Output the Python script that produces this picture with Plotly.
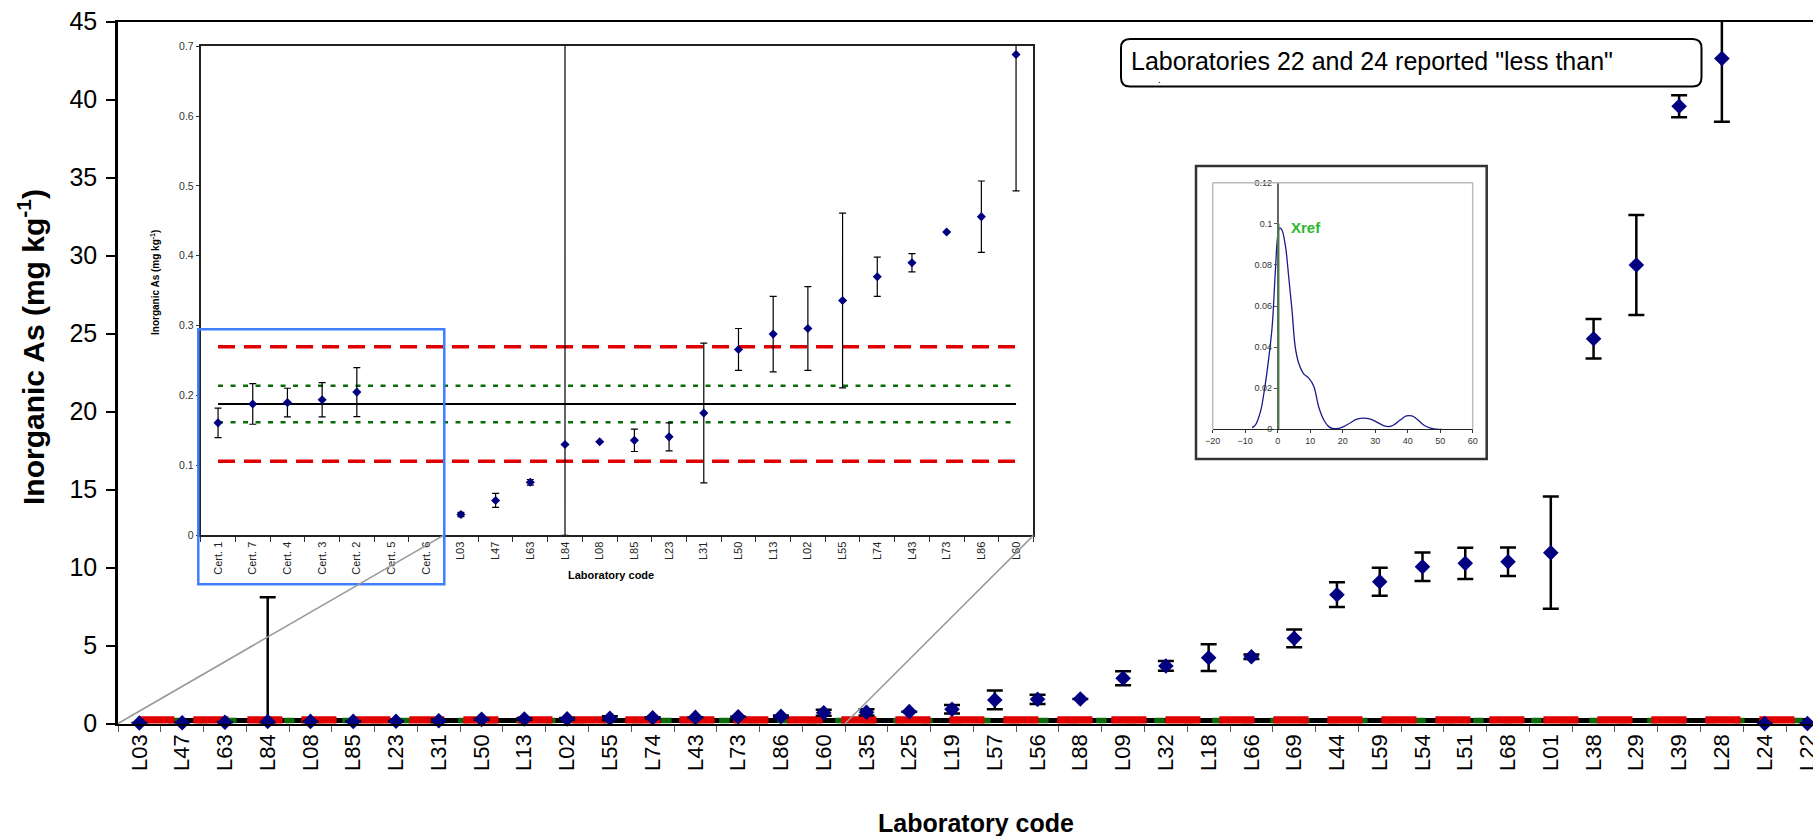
import plotly.graph_objects as go

# ---------------- data ----------------
lab_codes = ["L03", "L47", "L63", "L84", "L08", "L85", "L23", "L31", "L50", "L13",
             "L02", "L55", "L74", "L43", "L73", "L86", "L60", "L35", "L25", "L19",
             "L57", "L56", "L88", "L09", "L32", "L18", "L66", "L69", "L44", "L59",
             "L54", "L51", "L68", "L01", "L38", "L29", "L39", "L28", "L24", "L22"]
lab_values = [0.030, 0.050, 0.076, 0.130, 0.134, 0.136, 0.141, 0.175, 0.266, 0.288,
              0.296, 0.336, 0.370, 0.390, 0.434, 0.456, 0.688, 0.72, 0.76, 0.91,
              1.51, 1.55, 1.57, 2.90, 3.69, 4.22, 4.28, 5.46, 8.26, 9.09,
              10.05, 10.27, 10.37, 10.95, 24.67, 29.40, 39.58, 42.64, 0.0, 0.0]
lab_uncert = [0.003, 0.010, 0.004, 7.96, 0.0, 0.016, 0.020, 0.100, 0.030, 0.054,
              0.060, 0.125, 0.028, 0.013, 0.0, 0.051, 0.195, 0.20, 0.0, 0.27,
              0.60, 0.30, 0.0, 0.45, 0.31, 0.86, 0.15, 0.57, 0.79, 0.90,
              0.91, 1.00, 0.91, 3.60, 1.26, 3.20, 0.70, 4.06, 0.0, 0.0]

cert_codes = ["Cert. 1", "Cert. 7", "Cert. 4", "Cert. 3", "Cert. 2", "Cert. 5", "Cert. 6"]
cert_values = [0.161, 0.188, 0.190, 0.194, 0.205, None, None]
cert_uncert = [0.021, 0.029, 0.0205, 0.0245, 0.035, None, None]

n_zoom = 17          # number of laboratories repeated in the zoomed inset

x_ref = 0.188        # reference value
u_inner = 0.026      # green dotted band half-width
u_outer = 0.082      # red dashed band half-width

kde_x = [-7.9, -6.9, -5.3, -4.1, -2.8, -1.7, -0.7, 0.0, 0.6, 1.3, 2.4, 3.4, 4.4, 5.4,
         6.5, 8.0, 9.5, 11.1, 12.6, 14.2, 15.7, 17.2, 18.8, 20.3, 22.4, 24.4, 26.5,
         28.5, 30.6, 32.6, 34.2, 35.7, 37.7, 39.6, 41.3, 42.9, 44.9, 47.0, 49.5, 50.6]
kde_y = [0.0008, 0.002, 0.0086, 0.019, 0.034, 0.050, 0.0775, 0.094, 0.098, 0.097,
         0.089, 0.074, 0.058, 0.040, 0.032, 0.027, 0.025, 0.021, 0.011, 0.0045,
         0.0013, 0.0003, 0.0005, 0.0013, 0.0032, 0.0049, 0.0054, 0.0049, 0.0034,
         0.0018, 0.0013, 0.0021, 0.0045, 0.0065, 0.0065, 0.0049, 0.0021, 0.0006,
         0.0, 0.0]
kde_xref_height = 0.1

note_text = 'Laboratories 22 and 24 reported "less than"'

# ---------------- geometry (pixels) ----------------
W, H = 1813, 836
FONT = "Liberation Sans, Arial, sans-serif"


def fx(p):
    return p / W


def fy(p):
    return 1 - p / H


MAIN_L, MAIN_R, MAIN_T, MAIN_B = 118, 1813, 21.7, 723.5
CAT_W = 42.77
INS_L, INS_R, INS_T, INS_B = 200.7, 1033.4, 46.1, 535.4
KDE_L, KDE_R, KDE_T, KDE_B = 1212.7, 1472.7, 182.7, 429.3
BOX_L, BOX_R, BOX_T, BOX_B = 1196, 1486.7, 166, 459

x_main_end = -0.5 + (MAIN_R - MAIN_L) / CAT_W

inset_codes = cert_codes + lab_codes[:n_zoom]
inset_values = cert_values + lab_values[:n_zoom]
inset_uncert = cert_uncert + lab_uncert[:n_zoom]


def lower_err(u, v):
    if u is None or v is None:
        return None
    return min(u, v)


fig = go.Figure()

# ---------- main chart reference lines ----------
xs_main = [lab_codes[0], lab_codes[-1]]
fig.add_trace(go.Scatter(x=xs_main, y=[x_ref, x_ref], mode="lines",
                         line=dict(color="black", width=5),
                         xaxis="x", yaxis="y", hoverinfo="skip"))
for yv in (x_ref - u_inner, x_ref + u_inner):
    fig.add_trace(go.Scatter(x=xs_main, y=[yv, yv], mode="lines",
                             line=dict(color="#0B6B0B", width=5, dash="10px,19px"),
                             xaxis="x", yaxis="y", hoverinfo="skip"))
for yv in (x_ref - u_outer, x_ref + u_outer):
    fig.add_trace(go.Scatter(x=xs_main, y=[yv, yv], mode="lines",
                             line=dict(color="#E00000", width=6, dash="35px,19px"),
                             xaxis="x", yaxis="y", hoverinfo="skip"))

fig.add_trace(go.Scatter(
    x=lab_codes, y=lab_values, mode="markers",
    marker=dict(symbol="diamond", size=12, color="#000080"),
    error_y=dict(type="data", symmetric=False, array=lab_uncert,
                 arrayminus=[lower_err(u, v) for u, v in zip(lab_uncert, lab_values)],
                 color="black", thickness=2.5, width=8),
    cliponaxis=False, xaxis="x", yaxis="y"))

# ---------- inset (zoom) chart ----------
xs_ins = [inset_codes[0], inset_codes[-1]]
fig.add_trace(go.Scatter(x=xs_ins, y=[x_ref, x_ref], mode="lines",
                         line=dict(color="black", width=2),
                         xaxis="x2", yaxis="y2", hoverinfo="skip"))
for yv in (x_ref - u_inner, x_ref + u_inner):
    fig.add_trace(go.Scatter(x=xs_ins, y=[yv, yv], mode="lines",
                             line=dict(color="#0B6B0B", width=2.5, dash="5px,7.5px"),
                             xaxis="x2", yaxis="y2", hoverinfo="skip"))
for yv in (x_ref - u_outer, x_ref + u_outer):
    fig.add_trace(go.Scatter(x=xs_ins, y=[yv, yv], mode="lines",
                             line=dict(color="#E00000", width=3.5, dash="17px,9px"),
                             xaxis="x2", yaxis="y2", hoverinfo="skip"))
fig.add_trace(go.Scatter(
    x=inset_codes, y=inset_values, mode="markers",
    marker=dict(symbol="diamond", size=7, color="#000080"),
    error_y=dict(type="data", symmetric=False, array=inset_uncert,
                 arrayminus=[lower_err(u, v) for u, v in zip(inset_uncert, inset_values)],
                 color="black", thickness=1.2, width=3.5),
    xaxis="x2", yaxis="y2"))

# ---------- kernel density inset ----------
fig.add_trace(go.Scatter(x=kde_x, y=kde_y, mode="lines",
                         line=dict(color="#1A1A8C", width=1.3, shape="spline"),
                         xaxis="x3", yaxis="y3", hoverinfo="skip"))
fig.add_trace(go.Scatter(x=[x_ref, x_ref], y=[0, kde_xref_height], mode="lines",
                         line=dict(color="#2DB82D", width=2.5),
                         xaxis="x3", yaxis="y3", hoverinfo="skip"))

# ---------- axes ----------
fig.update_layout(
    xaxis=dict(domain=[fx(MAIN_L), 1], anchor="y", type="category",
               categoryorder="array", categoryarray=lab_codes,
               range=[-0.5, x_main_end], showline=True, linecolor="black",
               linewidth=2, mirror=True, ticks="outside", tickson="boundaries",
               ticklen=6, tickwidth=1.2, tickcolor="#555", tickangle=-90,
               tickfont=dict(size=22, color="black", family=FONT),
               showgrid=False, zeroline=False, automargin=False),
    yaxis=dict(domain=[fy(MAIN_B), fy(MAIN_T)], anchor="x", range=[0, 45],
               tick0=0, dtick=5, showline=True, linecolor="black", linewidth=2.5,
               ticks="outside", ticklen=9, tickwidth=1.5, tickcolor="black",
               ticklabelstandoff=4,
               tickfont=dict(size=25, color="black", family=FONT),
               showgrid=False, zeroline=False, automargin=False),
    xaxis2=dict(domain=[fx(INS_L), fx(INS_R)], anchor="y2", type="category",
                categoryorder="array", categoryarray=inset_codes,
                range=[-0.5, len(inset_codes) - 0.5], showline=True,
                linecolor="#222", linewidth=1.8, mirror=True, ticks="outside",
                tickson="boundaries", ticklen=5, tickwidth=1, tickcolor="#333",
                tickangle=-90, tickfont=dict(size=11, color="#222", family=FONT),
                showgrid=False, zeroline=False, automargin=False),
    yaxis2=dict(domain=[fy(INS_B), fy(INS_T)], anchor="x2", range=[0, 0.7],
                tick0=0, dtick=0.1, showline=True, linecolor="#222", linewidth=1.8,
                mirror=True, ticks="outside", ticklen=3, tickwidth=1,
                tickcolor="#333",
                tickfont=dict(size=10.5, color="#333", family=FONT),
                showgrid=False, zeroline=False, automargin=False),
    xaxis3=dict(domain=[fx(KDE_L), fx(KDE_R)], anchor="y3", range=[-20, 60],
                tick0=0, dtick=10, showline=True, linecolor="#222", linewidth=1.3,
                ticks="outside", ticklen=3, tickwidth=1, tickcolor="#333",
                tickfont=dict(size=9, color="#333", family=FONT),
                showgrid=False, zeroline=False, automargin=False),
    yaxis3=dict(domain=[fy(KDE_B), fy(KDE_T)], anchor="free",
                position=fx(KDE_L + (0 - (-20)) / 80 * (KDE_R - KDE_L)),
                range=[0, 0.12], tick0=0, dtick=0.02, showline=True,
                linecolor="#666", linewidth=1.5, ticks="outside", ticklen=3,
                tickwidth=1, tickcolor="#555",
                tickfont=dict(size=9, color="#333", family=FONT),
                showgrid=False, zeroline=False, automargin=False),
)

# ---------- shapes ----------
shapes = []
# KDE picture frame
shapes.append(dict(type="rect", xref="paper", yref="paper", layer="below",
                   x0=fx(BOX_L), x1=fx(BOX_R), y0=fy(BOX_B), y1=fy(BOX_T),
                   line=dict(color="#333", width=2.5), fillcolor="white"))
# KDE plot-area grey border (left, top, right)
for (a, b, c, d) in [(KDE_L, KDE_T, KDE_L, KDE_B), (KDE_L, KDE_T, KDE_R, KDE_T),
                     (KDE_R, KDE_T, KDE_R, KDE_B)]:
    shapes.append(dict(type="line", xref="paper", yref="paper", layer="above",
                       x0=fx(a), y0=fy(b), x1=fx(c), y1=fy(d),
                       line=dict(color="#BBBBBB", width=1.5)))
# blue zoom box around certified values
shapes.append(dict(type="rect", xref="paper", yref="paper", layer="above",
                   x0=fx(198.3), x1=fx(444.3), y0=fy(584.3), y1=fy(329.3),
                   line=dict(color="#3F7FFF", width=2.5)))
# connector lines from main chart to inset
n_ins = len(inset_codes)
ins_cat_w = (INS_R - INS_L) / n_ins
zoom_start_ins = INS_L + len(cert_codes) * ins_cat_w
zoom_end_main = MAIN_L + n_zoom * CAT_W
shapes.append(dict(type="line", xref="paper", yref="paper", layer="above",
                   x0=fx(MAIN_L), y0=fy(MAIN_B), x1=fx(zoom_start_ins), y1=fy(INS_B),
                   line=dict(color="#999999", width=1.6)))
shapes.append(dict(type="line", xref="paper", yref="paper", layer="above",
                   x0=fx(zoom_end_main), y0=fy(MAIN_B), x1=fx(INS_R), y1=fy(INS_B),
                   line=dict(color="#999999", width=1.6)))
# rounded note box
x0, y0, x1, y1, r = 1121, 39, 1701.5, 86.5, 9
rx, ry = r / W, r / H
X0, X1, Y0, Y1 = fx(x0), fx(x1), fy(y0), fy(y1)
path = (f"M {X0+rx},{Y0} L {X1-rx},{Y0} Q {X1},{Y0} {X1},{Y0-ry} "
        f"L {X1},{Y1+ry} Q {X1},{Y1} {X1-rx},{Y1} L {X0+rx},{Y1} "
        f"Q {X0},{Y1} {X0},{Y1+ry} L {X0},{Y0-ry} Q {X0},{Y0} {X0+rx},{Y0} Z")
shapes.append(dict(type="path", xref="paper", yref="paper", layer="below",
                   path=path, line=dict(color="black", width=2), fillcolor="white"))

# ---------- annotations ----------
annotations = [
    dict(text="<b>Inorganic As (mg kg<sup>-1</sup>)</b>", textangle=-90,
         x=fx(31), y=fy(347), xanchor="center", yanchor="middle",
         xref="paper", yref="paper", showarrow=False,
         font=dict(size=30, color="black", family=FONT)),
    dict(text="<b>Laboratory code</b>", x=fx(976), y=fy(823), xanchor="center",
         yanchor="middle", xref="paper", yref="paper", showarrow=False,
         font=dict(size=25, color="black", family=FONT)),
    dict(text="<b>Inorganic As (mg kg<sup>-1</sup>)</b>", textangle=-90,
         x=fx(155), y=fy(283), xanchor="center", yanchor="middle",
         xref="paper", yref="paper", showarrow=False,
         font=dict(size=10, color="black", family=FONT)),
    dict(text="<b>Laboratory code</b>", x=fx(611), y=fy(575), xanchor="center",
         yanchor="middle", xref="paper", yref="paper", showarrow=False,
         font=dict(size=11, color="black", family=FONT)),
    dict(text="<b>Xref</b>", x=3.5, y=0.098, xref="x3", yref="y3", xanchor="left",
         yanchor="middle", showarrow=False,
         font=dict(size=15, color="#2DB82D", family=FONT)),
    dict(text=note_text, x=fx(1129), y=fy(61), xref="paper", yref="paper",
         xanchor="left", yanchor="middle", showarrow=False,
         font=dict(size=25, color="black", family=FONT)),
    dict(text=".", x=fx(1159), y=fy(79), xanchor="center", yanchor="middle",
         xref="paper", yref="paper",
         showarrow=False, font=dict(size=10, color="black", family=FONT)),
]

fig.update_layout(
    width=W, height=H, margin=dict(l=0, r=0, t=0, b=0, autoexpand=False),
    paper_bgcolor="white", plot_bgcolor="white", showlegend=False,
    font=dict(family=FONT, color="black"),
    shapes=shapes, annotations=annotations,
)

fig.write_html("out.html", config={"displayModeBar": False},
               post_script="document.body.style.margin='0px';")
